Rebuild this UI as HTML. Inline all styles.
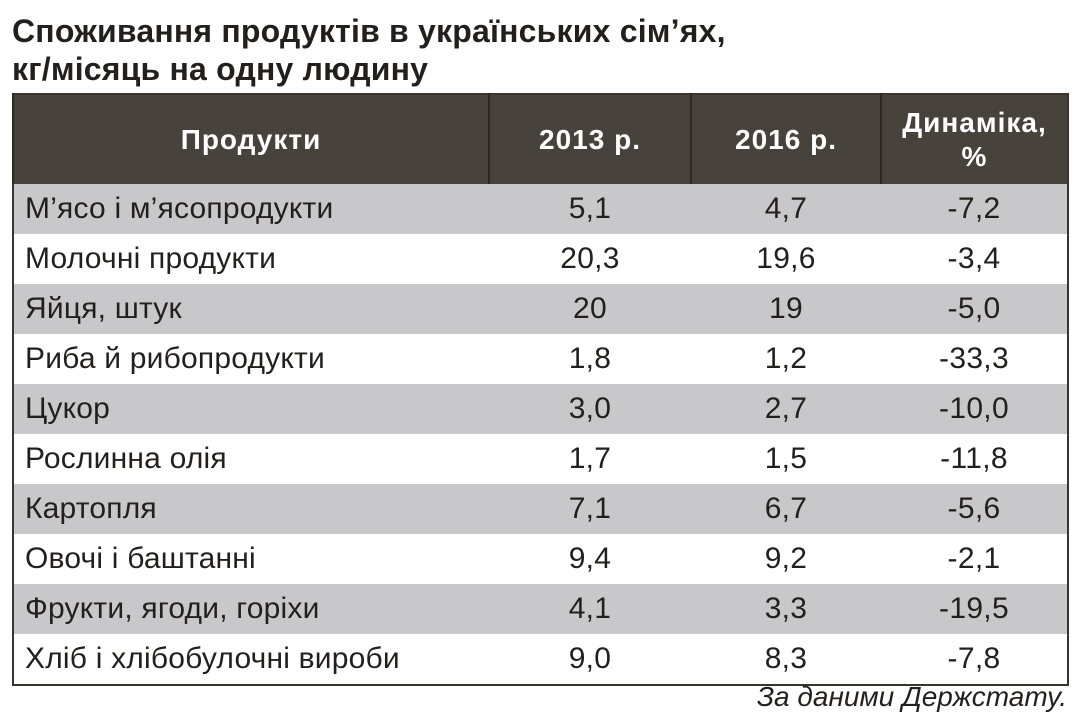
<!DOCTYPE html>
<html><head><meta charset="utf-8"><style>
body{margin:0;width:1079px;height:722px;background:#fff;font-family:"Liberation Sans",sans-serif;color:#231f1c;position:relative;overflow:hidden}
.t{position:absolute;left:12px;font-weight:bold;font-size:32px;line-height:38px;letter-spacing:0.2px}
table{position:absolute;left:12px;top:93px;width:1057px;border-collapse:collapse;border:2px solid #3a342e}
th{background:#48423c;color:#fff;font-size:28px;font-weight:bold;height:89px;border-left:2px solid #2e2925;padding:0;line-height:34px;letter-spacing:1px}
td{font-size:30px;height:50px;padding:0;text-align:center;letter-spacing:0.3px}
td:first-child{text-align:left;padding-left:11px;letter-spacing:0.2px}
tr.g td{background:#c8c7c9}
.src{position:absolute;right:12px;top:681px;font-style:italic;font-size:28px}
</style></head><body>
<div class="t" style="top:12px">Споживання продуктів в українських сім’ях,</div>
<div class="t" style="top:50px">кг/місяць на одну людину</div>
<table>
<colgroup><col style="width:476px"><col style="width:202px"><col style="width:190px"><col></colgroup>
<tr><th>Продукти</th><th>2013 р.</th><th>2016 р.</th><th>Динаміка,<br>%</th></tr>
<tr class="g"><td>М’ясо і м’ясопродукти</td><td>5,1</td><td>4,7</td><td>-7,2</td></tr>
<tr><td>Молочні продукти</td><td>20,3</td><td>19,6</td><td>-3,4</td></tr>
<tr class="g"><td>Яйця, штук</td><td>20</td><td>19</td><td>-5,0</td></tr>
<tr><td>Риба й рибопродукти</td><td>1,8</td><td>1,2</td><td>-33,3</td></tr>
<tr class="g"><td>Цукор</td><td>3,0</td><td>2,7</td><td>-10,0</td></tr>
<tr><td>Рослинна олія</td><td>1,7</td><td>1,5</td><td>-11,8</td></tr>
<tr class="g"><td>Картопля</td><td>7,1</td><td>6,7</td><td>-5,6</td></tr>
<tr><td>Овочі і баштанні</td><td>9,4</td><td>9,2</td><td>-2,1</td></tr>
<tr class="g"><td>Фрукти, ягоди, горіхи</td><td>4,1</td><td>3,3</td><td>-19,5</td></tr>
<tr><td>Хліб і хлібобулочні вироби</td><td>9,0</td><td>8,3</td><td>-7,8</td></tr>
</table>
<div class="src">За даними Держстату.</div>
</body></html>
